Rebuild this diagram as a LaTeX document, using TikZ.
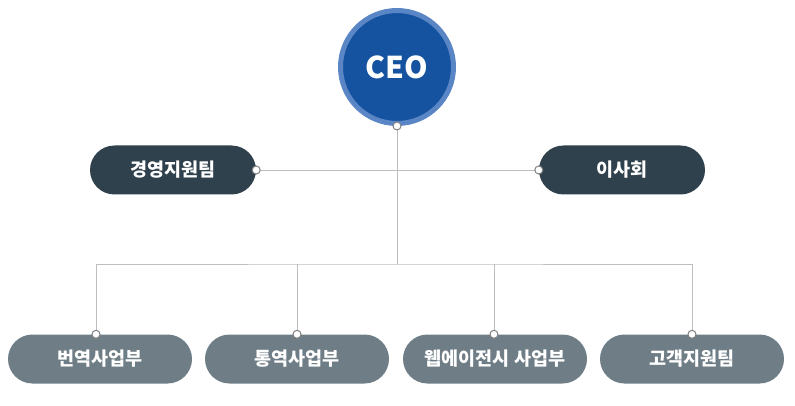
\documentclass[tikz,border=0pt]{standalone}
\usepackage{fontspec}
\setmainfont{Noto Sans CJK KR}
\usepackage{xcolor}
\usepackage{tikz}
\definecolor{ceoblue}{HTML}{1553A0}
\definecolor{ceoring}{HTML}{5A86C6}
\definecolor{teamdark}{HTML}{2F414C}
\definecolor{teamgray}{HTML}{6F7E86}
\definecolor{linegray}{HTML}{BDBDBD}

\begin{document}
\begin{tikzpicture}[x=1pt, y=-1pt,
    team/.style={rounded corners=24.5pt, minimum height=49pt, inner sep=0pt, text=white, font=\bfseries\fontsize{18.5}{21}\selectfont},
    topteam/.style={team, fill=teamdark, minimum width=166pt},
    unit/.style={team, fill=teamgray, minimum width=184pt},
    pin/.style={circle, draw=gray, fill=white, line width=1pt, inner sep=0pt, minimum size=8pt}]
    \useasboundingbox (0,0) rectangle (795,406);
    % ceo
    \node[circle, fill=ceoblue, draw=ceoring, line width=5pt, minimum size=113pt, text=white, font=\bfseries\fontsize{30}{33}\selectfont] (ceo) at (397,67) {CEO};
    % staff teams
    \node[topteam] (mgmt) at (173,170) {경영지원팀};
    \node[topteam] (board) at (622,170) {이사회};
    % units
    \node[unit] (trans) at (100,359) {번역사업부};
    \node[unit] (interp) at (297,359) {통역사업부};
    \node[unit] (web) at (495,359) {웹에이전시 사업부};
    \node[unit] (care) at (692,359) {고객지원팀};
    % lines
    \coordinate (bus) at (397,264);
    \draw[linegray, line width=0.8pt] (ceo.south) -- (bus);
    \draw[linegray, line width=0.8pt] (mgmt.east) -- (board.west);
    \draw[linegray, line width=0.8pt] (trans.north -| 96,0) |- (bus) -| (care.north);
    \draw[linegray, line width=0.8pt] (interp.north) -- (interp.north |- bus);
    \draw[linegray, line width=0.8pt] (web.north -| 494,0) -- (494,264);
    % pins
    \node[pin] (p0) at (ceo.south) {};
    \node[pin] (p1) at (mgmt.east) {};
    \node[pin] (p2) at (board.west) {};
    \node[pin] (p3) at (trans.north -| 96,0) {};
    \node[pin] (p4) at (interp.north) {};
    \node[pin] (p5) at (web.north -| 494,0) {};
    \node[pin] (p6) at (care.north) {};
\end{tikzpicture}
\end{document}
